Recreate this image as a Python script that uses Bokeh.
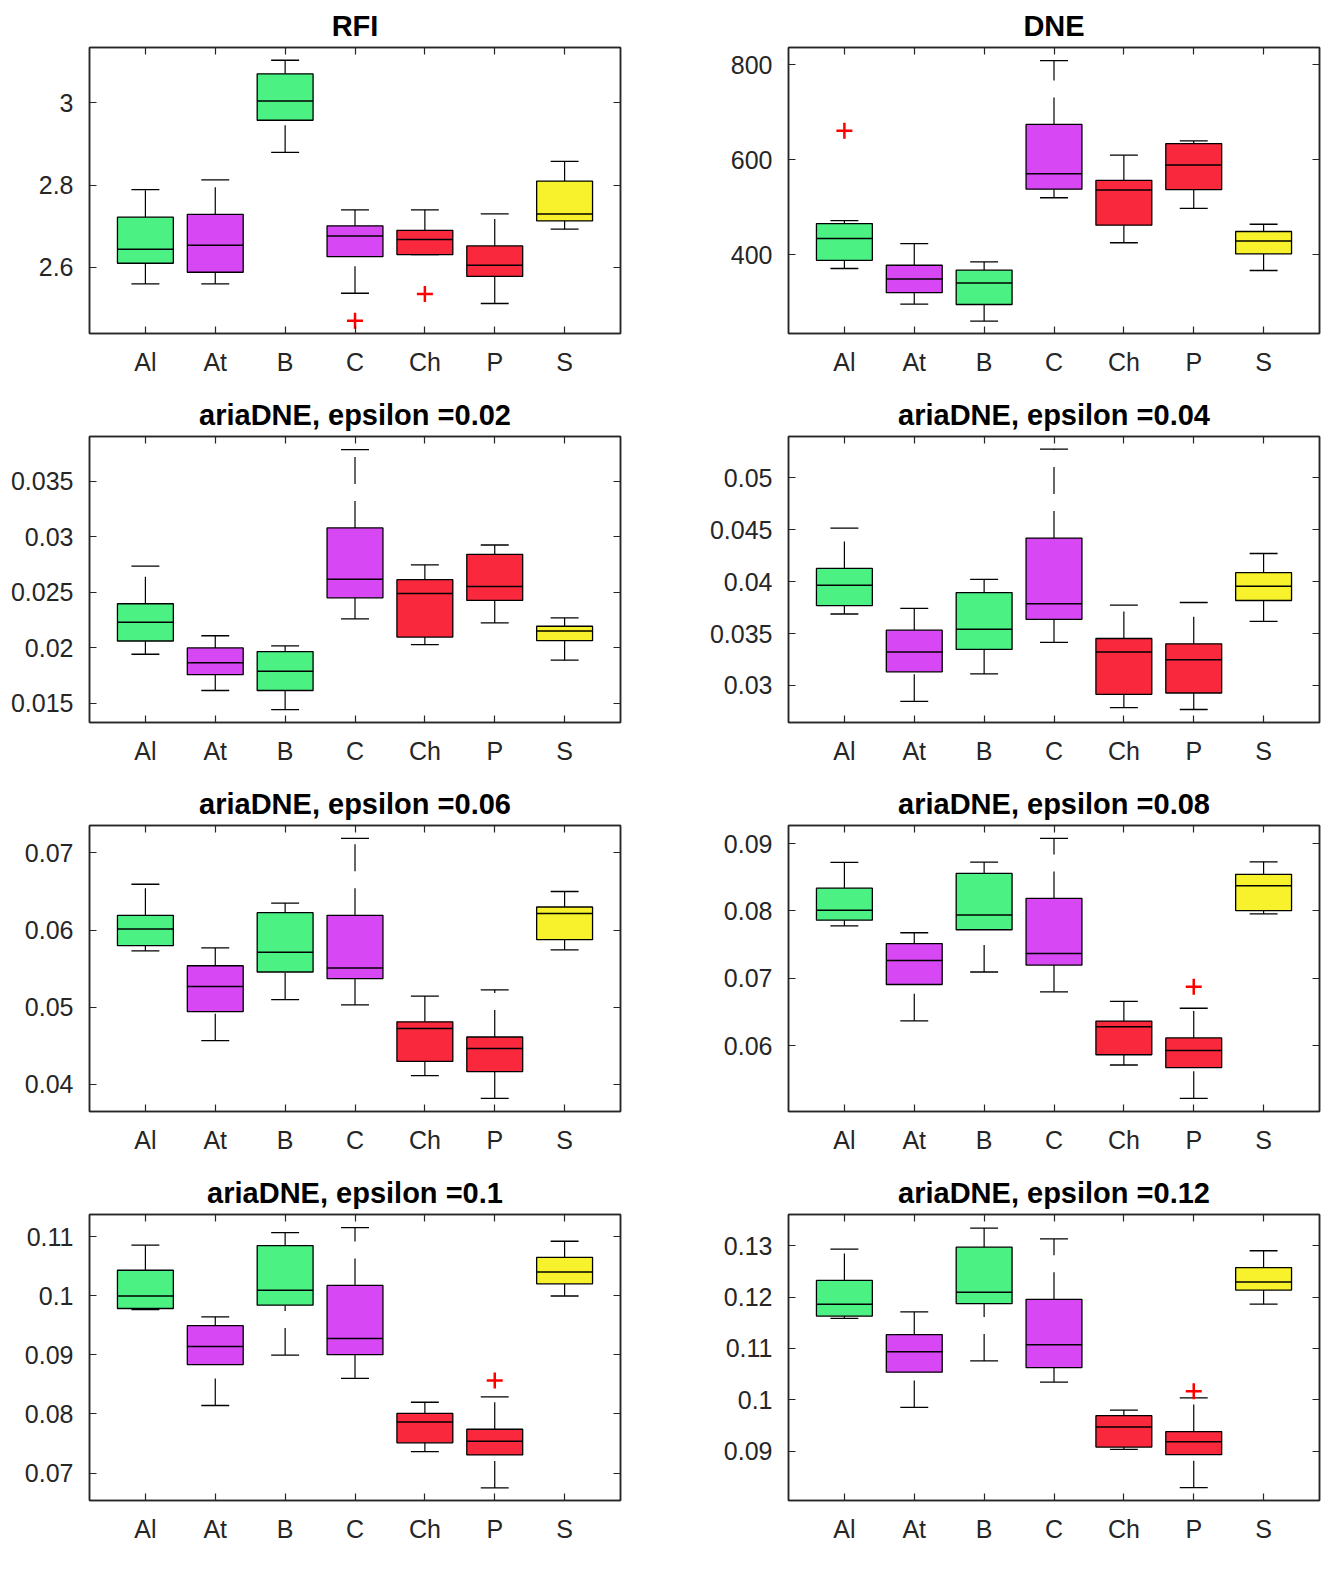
from bokeh.plotting import figure
from bokeh.layouts import gridplot
from bokeh.models import Range1d, FixedTicker, LinearAxis, Grid
from bokeh.embed import file_html
from bokeh.resources import INLINE

# ---------------- data ----------------
groups = ["Al", "At", "B", "C", "Ch", "P", "S"]
group_pos = [1, 2, 3, 4, 5, 6, 7]
group_colors = ["#4BF283", "#D747F4", "#F9283D", "#F7F22B"]
box_color_idx = [0, 1, 0, 1, 2, 2, 3]

# RFI
rfi_hi = [2.789, 2.813, 3.104, 2.740, 2.740, 2.730, 2.858]
rfi_q3 = [2.722, 2.729, 3.071, 2.701, 2.690, 2.652, 2.810]
rfi_med = [2.644, 2.654, 3.005, 2.676, 2.668, 2.605, 2.730]
rfi_q1 = [2.610, 2.588, 2.958, 2.626, 2.631, 2.578, 2.713]
rfi_lo = [2.560, 2.560, 2.880, 2.537, 2.631, 2.512, 2.693]
rfi_out_x = [4, 5]
rfi_out_y = [2.470, 2.535]
rfi_ticks = [2.6, 2.8, 3.0]
rfi_tick_labels = ["2.6", "2.8", "3"]

# DNE
dne_hi = [471.7, 423.0, 384.7, 808.3, 609.4, 639.3, 464.0]
dne_q3 = [465.4, 377.7, 367.3, 674.0, 556.5, 633.7, 448.7]
dne_med = [434.0, 348.5, 340.2, 570.4, 536.3, 588.5, 428.5]
dne_q1 = [388.0, 320.0, 295.0, 537.7, 462.0, 537.0, 401.4]
dne_lo = [370.8, 295.7, 260.2, 519.7, 425.0, 497.4, 366.6]
dne_out_x = [1]
dne_out_y = [660.9]
dne_ticks = [400, 600, 800]
dne_tick_labels = ["400", "600", "800"]

# ariaDNE eps = 0.02
e02_hi = [0.02735, 0.02107, 0.02015, 0.03786, 0.02747, 0.02926, 0.02268]
e02_q3 = [0.02396, 0.01997, 0.01964, 0.03080, 0.02613, 0.02842, 0.02193]
e02_med = [0.02229, 0.01863, 0.01786, 0.02616, 0.02488, 0.02551, 0.02149]
e02_q1 = [0.02060, 0.01756, 0.01613, 0.02449, 0.02095, 0.02426, 0.02063]
e02_lo = [0.01940, 0.01613, 0.01440, 0.02259, 0.02027, 0.02223, 0.01887]
e02_out_x = []
e02_out_y = []
e02_ticks = [0.015, 0.02, 0.025, 0.03, 0.035]
e02_tick_labels = ["0.015", "0.02", "0.025", "0.03", "0.035"]

# ariaDNE eps = 0.04
e04_hi = [0.04516, 0.03742, 0.04022, 0.05277, 0.03774, 0.03799, 0.04271]
e04_q3 = [0.04127, 0.03532, 0.03895, 0.04420, 0.03452, 0.03401, 0.04086]
e04_med = [0.03965, 0.03322, 0.03541, 0.03787, 0.03322, 0.03248, 0.03955]
e04_q1 = [0.03768, 0.03131, 0.03347, 0.03637, 0.02914, 0.02927, 0.03818]
e04_lo = [0.03688, 0.02847, 0.03111, 0.03414, 0.02787, 0.02768, 0.03618]
e04_out_x = []
e04_out_y = []
e04_ticks = [0.03, 0.035, 0.04, 0.045, 0.05]
e04_tick_labels = ["0.03", "0.035", "0.04", "0.045", "0.05"]

# ariaDNE eps = 0.06
e06_hi = [0.06594, 0.05769, 0.06350, 0.07188, 0.05145, 0.05226, 0.06500]
e06_q3 = [0.06192, 0.05538, 0.06226, 0.06192, 0.04812, 0.04615, 0.06299]
e06_med = [0.06013, 0.05269, 0.05714, 0.05509, 0.04726, 0.04466, 0.06214]
e06_q1 = [0.05799, 0.04944, 0.05457, 0.05372, 0.04299, 0.04167, 0.05876]
e06_lo = [0.05731, 0.04568, 0.05098, 0.05030, 0.04115, 0.03821, 0.05744]
e06_out_x = []
e06_out_y = []
e06_ticks = [0.04, 0.05, 0.06, 0.07]
e06_tick_labels = ["0.04", "0.05", "0.06", "0.07"]

# ariaDNE eps = 0.08
e08_hi = [0.08721, 0.07676, 0.08725, 0.09078, 0.06657, 0.06554, 0.08730]
e08_q3 = [0.08338, 0.07515, 0.08559, 0.08186, 0.06363, 0.06113, 0.08544]
e08_med = [0.08010, 0.07265, 0.07941, 0.07368, 0.06279, 0.05926, 0.08373]
e08_q1 = [0.07863, 0.06907, 0.07721, 0.07196, 0.05863, 0.05672, 0.08005]
e08_lo = [0.07779, 0.06368, 0.07093, 0.06799, 0.05711, 0.05216, 0.07956]
e08_out_x = [6]
e08_out_y = [0.06873]
e08_ticks = [0.06, 0.07, 0.08, 0.09]
e08_tick_labels = ["0.06", "0.07", "0.08", "0.09"]

# ariaDNE eps = 0.1
e10_hi = [0.10855, 0.09644, 0.11067, 0.11151, 0.08199, 0.08289, 0.10922]
e10_q3 = [0.10431, 0.09494, 0.10849, 0.10174, 0.08010, 0.07742, 0.10649]
e10_med = [0.09996, 0.09142, 0.10091, 0.09276, 0.07865, 0.07541, 0.10403]
e10_q1 = [0.09784, 0.08835, 0.09840, 0.09003, 0.07513, 0.07307, 0.10202]
e10_lo = [0.09767, 0.08144, 0.08997, 0.08601, 0.07363, 0.06749, 0.09996]
e10_out_x = [6]
e10_out_y = [0.08568]
e10_ticks = [0.07, 0.08, 0.09, 0.1, 0.11]
e10_tick_labels = ["0.07", "0.08", "0.09", "0.1", "0.11"]

# ariaDNE eps = 0.12
e12_hi = [0.12936, 0.11714, 0.13347, 0.13135, 0.09797, 0.10035, 0.12904]
e12_q3 = [0.12325, 0.11270, 0.12974, 0.11958, 0.09688, 0.09379, 0.12576]
e12_med = [0.11862, 0.10936, 0.12093, 0.11071, 0.09469, 0.09180, 0.12293]
e12_q1 = [0.11630, 0.10537, 0.11875, 0.10627, 0.09077, 0.08929, 0.12138]
e12_lo = [0.11585, 0.09849, 0.10756, 0.10344, 0.09032, 0.08286, 0.11862]
e12_out_x = [6]
e12_out_y = [0.10164]
e12_ticks = [0.09, 0.1, 0.11, 0.12, 0.13]
e12_tick_labels = ["0.09", "0.1", "0.11", "0.12", "0.13"]

titles = ["RFI", "DNE",
          "ariaDNE, epsilon =0.02", "ariaDNE, epsilon =0.04",
          "ariaDNE, epsilon =0.06", "ariaDNE, epsilon =0.08",
          "ariaDNE, epsilon =0.1", "ariaDNE, epsilon =0.12"]
y_limits = [(2.439, 3.135), (234.0, 836.0),
            (0.013244, 0.03905), (0.02643, 0.05398),
            (0.03650, 0.07355), (0.05020, 0.09270),
            (0.06537, 0.11374), (0.08035, 0.13611)]

# ---------------- drawing ----------------
FONT = "Liberation Sans"
AX_COLOR = "#262626"
FRAME_W = 531
FRAME_H = 286


def style_axis(ax, ticks, labels, show_labels, standoff):
    ax.ticker = FixedTicker(ticks=ticks, minor_ticks=[])
    ax.major_tick_in = 7
    ax.major_tick_out = 0
    ax.minor_tick_in = 0
    ax.minor_tick_out = 0
    ax.major_tick_line_color = AX_COLOR
    ax.major_tick_line_width = 1.2
    ax.axis_line_color = AX_COLOR
    ax.axis_line_width = 1.5
    if show_labels:
        ax.major_label_overrides = {t: l for t, l in zip(ticks, labels)}
        ax.major_label_text_font = FONT
        ax.major_label_text_font_size = "25px"
        ax.major_label_text_color = AX_COLOR
        ax.major_label_standoff = standoff
    else:
        ax.major_label_overrides = {t: "" for t in ticks}
        ax.major_label_text_font_size = "1px"
        ax.major_label_text_color = None
        ax.major_label_standoff = 0


def make_panel(title, hi, q3, med, q1, lo, out_x, out_y, ylim, yticks, ylabels,
               left, right, top, bottom):
    p = figure(frame_width=FRAME_W, frame_height=FRAME_H,
               x_range=Range1d(0.2, 7.8), y_range=Range1d(*ylim),
               x_axis_location=None, y_axis_location=None,
               output_backend="svg", toolbar_location=None, tools="",
               min_border_left=left, min_border_right=right,
               min_border_top=top, min_border_bottom=bottom)
    p.background_fill_color = "white"
    p.border_fill_color = "white"
    p.outline_line_color = AX_COLOR
    p.outline_line_width = 1.5
    for r in list(p.center):
        if isinstance(r, Grid):
            r.visible = False

    p.title.text = title
    p.title.align = "center"
    p.title.text_font = FONT
    p.title.text_font_style = "bold"
    p.title.text_font_size = "29px"
    p.title.text_color = "black"
    p.title.standoff = 12

    xb = LinearAxis()
    style_axis(xb, group_pos, groups, True, 14)
    p.add_layout(xb, "below")
    xt = LinearAxis()
    style_axis(xt, group_pos, groups, False, 0)
    p.add_layout(xt, "above")
    yl = LinearAxis()
    style_axis(yl, yticks, ylabels, True, 16)
    p.add_layout(yl, "left")
    yr = LinearAxis()
    style_axis(yr, yticks, ylabels, False, 0)
    p.add_layout(yr, "right")

    fills = [group_colors[i] for i in box_color_idx]
    left_x = [x - 0.4 for x in group_pos]
    right_x = [x + 0.4 for x in group_pos]
    capl = [x - 0.2 for x in group_pos]
    capr = [x + 0.2 for x in group_pos]

    # whiskers (dashed, drawn from lower value upward)
    p.segment(x0=group_pos, y0=q3, x1=group_pos, y1=hi,
              line_color="black", line_width=1.2, line_dash="27 17")
    p.segment(x0=group_pos, y0=lo, x1=group_pos, y1=q1,
              line_color="black", line_width=1.2, line_dash="27 17")
    # caps
    p.segment(x0=capl, y0=hi, x1=capr, y1=hi, line_color="black", line_width=1.3)
    p.segment(x0=capl, y0=lo, x1=capr, y1=lo, line_color="black", line_width=1.3)
    # boxes
    p.vbar(x=group_pos, width=0.8, top=q3, bottom=q1,
           fill_color=fills, line_color="black", line_width=1.3)
    # medians
    p.segment(x0=left_x, y0=med, x1=right_x, y1=med, line_color="black", line_width=1.5)
    # outliers
    if out_x:
        p.scatter(x=out_x, y=out_y, marker="cross", size=16,
                  line_color="#FF0000", line_width=2.5)
    return p


panel_data = [
    (rfi_hi, rfi_q3, rfi_med, rfi_q1, rfi_lo, rfi_out_x, rfi_out_y, rfi_ticks, rfi_tick_labels),
    (dne_hi, dne_q3, dne_med, dne_q1, dne_lo, dne_out_x, dne_out_y, dne_ticks, dne_tick_labels),
    (e02_hi, e02_q3, e02_med, e02_q1, e02_lo, e02_out_x, e02_out_y, e02_ticks, e02_tick_labels),
    (e04_hi, e04_q3, e04_med, e04_q1, e04_lo, e04_out_x, e04_out_y, e04_ticks, e04_tick_labels),
    (e06_hi, e06_q3, e06_med, e06_q1, e06_lo, e06_out_x, e06_out_y, e06_ticks, e06_tick_labels),
    (e08_hi, e08_q3, e08_med, e08_q1, e08_lo, e08_out_x, e08_out_y, e08_ticks, e08_tick_labels),
    (e10_hi, e10_q3, e10_med, e10_q1, e10_lo, e10_out_x, e10_out_y, e10_ticks, e10_tick_labels),
    (e12_hi, e12_q3, e12_med, e12_q1, e12_lo, e12_out_x, e12_out_y, e12_ticks, e12_tick_labels),
]

figs = []
for i, d in enumerate(panel_data):
    hi, q3, med, q1, lo, ox, oy, yt, ytl = d
    if i % 2 == 0:
        lb, rb = 89, 20
    else:
        lb, rb = 148, 4
    figs.append(make_panel(titles[i], hi, q3, med, q1, lo, ox, oy, y_limits[i], yt, ytl,
                           lb, rb, 47, 56))

grid = gridplot([[figs[0], figs[1]], [figs[2], figs[3]],
                 [figs[4], figs[5]], [figs[6], figs[7]]],
                toolbar_location=None)

open("out.html", "w").write(file_html(grid, INLINE))
